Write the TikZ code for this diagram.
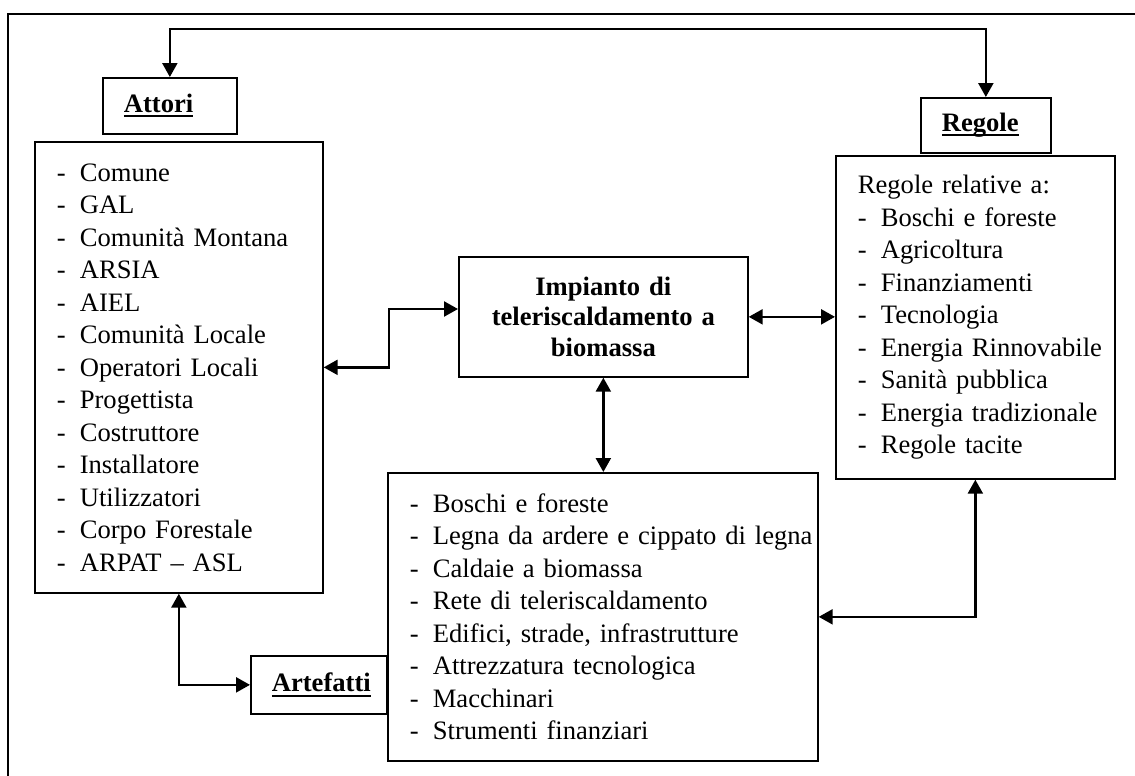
\documentclass[tikz,border=0pt]{standalone}
\usepackage{fontspec}
\setmainfont{Liberation Serif}
\usetikzlibrary{arrows.meta}

\newcommand{\voce}[1]{\mbox{\makebox[11.5pt][l]{-}#1}}
\newcommand{\titolo}[1]{\mbox{\bfseries\setbox0\hbox{#1}\rlap{\rule[-2.3pt]{\wd0}{0.95pt}}\box0}}

\begin{document}
\begin{tikzpicture}[x=0.5pt, y=-0.5pt,
  >={Triangle[length=7pt,width=7.5pt]},
  font=\fontsize{13.3pt}{16.25pt}\selectfont]

\useasboundingbox (0,0) rectangle (1135,776);

\tikzset{
  riquadro/.style={draw, line width=0.85pt, anchor=north west, inner xsep=11pt, inner ysep=0pt, align=left},
  etichetta/.style={riquadro, inner xsep=10.5pt},
  freccia/.style={line width=1.15pt, <->}
}

% 1. Cornice esterna
\draw[line width=0.85pt] (1135,14) -- (8,14) -- (8,776);

% 2. Attori con elenco
\node[etichetta, text width=46pt, minimum height=28pt] (attori) at (102,77) {\titolo{Attori}};
\node[riquadro, text width=122pt, minimum height=225.5pt] (listaattori) at (34,141) {%
  \voce{Comune}\\ \voce{GAL}\\ \voce{Comunità Montana}\\ \voce{ARSIA}\\ \voce{AIEL}\\
  \voce{Comunità Locale}\\ \voce{Operatori Locali}\\ \voce{Progettista}\\ \voce{Costruttore}\\
  \voce{Installatore}\\ \voce{Utilizzatori}\\ \voce{Corpo Forestale}\\ \voce{ARPAT -- ASL}};

% 3. Regole con elenco
\node[etichetta, text width=44pt, minimum height=27.5pt] (regole) at (920,97) {\titolo{Regole}};
\node[riquadro, text width=117.5pt, minimum height=161.5pt] (listaregole) at (835,155) {%
  Regole relative a:\\ \voce{Boschi e foreste}\\ \voce{Agricoltura}\\ \voce{Finanziamenti}\\
  \voce{Tecnologia}\\ \voce{Energia Rinnovabile}\\ \voce{Sanità pubblica}\\
  \voce{Energia tradizionale}\\ \voce{Regole tacite}};

% 4. Impianto al centro
\node[riquadro, text width=122.5pt, minimum height=60pt, align=center,
  font=\bfseries\fontsize{13.3pt}{15.25pt}\selectfont] (impianto) at (458,256)
  {Impianto di\\ teleriscaldamento a\\ biomassa};

% 5. Artefatti con elenco
\node[etichetta, text width=47pt, minimum height=29pt] (artefatti) at (250,655) {\titolo{Artefatti}};
\node[riquadro, text width=193pt, minimum height=144pt] (listaartefatti) at (387,472) {%
  \voce{Boschi e foreste}\\ \voce{Legna da ardere e cippato di legna}\\ \voce{Caldaie a biomassa}\\
  \voce{Rete di teleriscaldamento}\\ \voce{Edifici, strade, infrastrutture}\\
  \voce{Attrezzatura tecnologica}\\ \voce{Macchinari}\\ \voce{Strumenti finanziari}};

% 6. Collegamenti
\coordinate (alto) at (0,29);
\coordinate (gomito) at (389,309);
\draw[freccia] (attori.north) -- (attori.north |- alto) -- (regole.north |- alto) -- (regole.north);
\draw[freccia] (listaattori.south) |- (artefatti.west);
\draw[freccia] (impianto.west |- gomito) -- (gomito) |- (listaattori.east);
\draw[freccia] (impianto.east) -- (impianto.east -| listaregole.west);
\draw[freccia] (impianto.south) -- (impianto.south |- listaartefatti.north);
\draw[freccia] (listaartefatti.east) -| (listaregole.south);

\end{tikzpicture}
\end{document}
